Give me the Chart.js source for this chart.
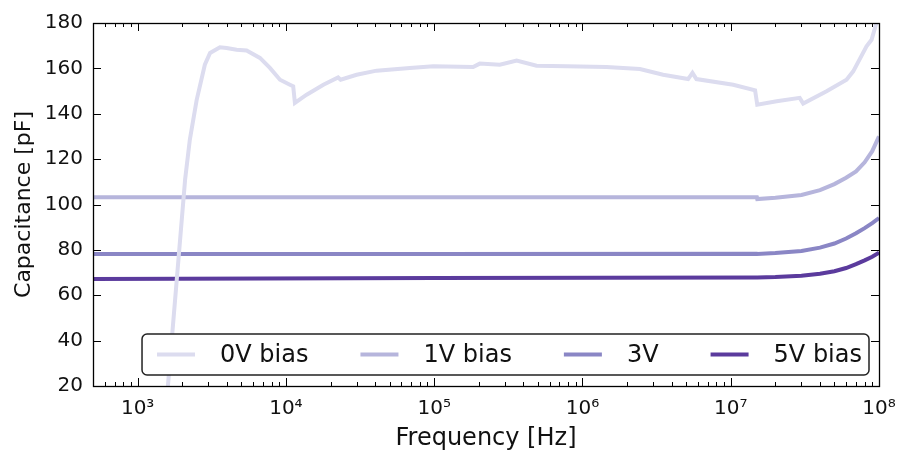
<!DOCTYPE html>
<html lang="en">
<head>
  <meta charset="UTF-8" />
  <title>Capacitance vs Frequency</title>
  <style>
    body {
      margin: 0;
      background: #fff;
    }
    #wrap {
      width: 901px;
      height: 457px;
      position: relative;
    }
  </style>
  <script src="https://cdn.jsdelivr.net/npm/chart.js"></script>
</head>
<body>
  <div id="wrap"><canvas id="capChart"></canvas></div>
  <script>
    // Series (frequency in Hz, capacitance in pF)
    const seriesNames = ["0V bias", "1V bias", "3V", "5V bias"];
    const seriesColors = ["#dcdcef", "#b6b5dc", "#8a86c5", "#5b3b9d"];

    const freq0 = [1.4e3, 1.6e3, 2.09e3, 2.25e3, 2.5e3, 2.84e3, 3.08e3, 3.59e3, 3.98e3, 4.65e3,
      5.43e3, 6.68e3, 7.8e3, 9.12e3, 1.064e4, 1.12e4, 1.15e4, 1.38e4, 1.79e4, 2.25e4,
      2.34e4, 3.0e4, 4.09e4, 6.85e4, 9.86e4, 1.83e5, 2.03e5, 2.77e5, 3.6e5, 4.9e5,
      7.82e5, 1.45e6, 2.44e6, 3.5e6, 5.16e6, 5.52e6, 5.87e6, 1.04e7, 1.46e7, 1.51e7,
      2.04e7, 2.92e7, 3.08e7, 4.43e7, 6.04e7, 6.7e7, 8.24e7, 8.91e7, 1e8];
    const cap0 = [-20, 20, 111, 128.6, 146, 161.6, 166.8, 169.3, 169, 168.2,
      167.9, 164.6, 160.2, 155, 152.8, 152.1, 144.8, 148.4, 152.8, 156,
      155, 157.2, 159, 160.2, 160.9, 160.6, 162.1, 161.6, 163.4, 161.2,
      160.9, 160.6, 159.7, 157.2, 155.3, 158, 155.3, 152.8, 150.3, 144,
      145.5, 147, 144.5, 149.9, 155, 158.7, 169.7, 172.6, 184];

    const freqBias = [5e2, 1e5, 1.5e7, 1.51e7, 2e7, 3e7, 4e7, 5e7, 6e7, 7e7, 8e7, 9e7, 1e8];
    const cap1 = [103.2, 103.2, 103.2, 102.4, 103.0, 104.2, 106.3, 109.0, 111.8, 114.6, 118.6, 123.5, 130];
    const cap3 = [78.2, 78.2, 78.3, 78.2, 78.6, 79.5, 81.0, 82.8, 85.0, 87.3, 89.6, 91.8, 94];
    const cap5 = [67.2, 67.6, 67.8, 67.8, 68.0, 68.6, 69.5, 70.6, 72.0, 73.7, 75.4, 77.0, 78.8];

    const xExponents = [3, 4, 5, 6, 7, 8];
    const yTicks = [20, 40, 60, 80, 100, 120, 140, 160, 180];

    const sup = { "0": "⁰", "1": "¹", "2": "²", "3": "³", "4": "⁴", "5": "⁵", "6": "⁶", "7": "⁷", "8": "⁸", "9": "⁹" };
    const FONT = "'DejaVu Sans', sans-serif";

    function toPoints(xs, ys) {
      return xs.map((x, i) => ({ x: x, y: ys[i] }));
    }

    // frame with inward ticks on all four sides, like matplotlib
    const framePlugin = {
      id: "frame",
      afterDatasetsDraw(chart) {
        const ctx = chart.ctx;
        const a = chart.chartArea;
        const xs = chart.scales.x;
        const ys = chart.scales.y;
        ctx.save();
        ctx.strokeStyle = "#000";
        ctx.lineWidth = 1;
        ctx.beginPath();
        // x ticks: majors at decades, minors at 2..9
        for (let e = 2; e <= 8; e++) {
          for (let m = 1; m <= 9; m++) {
            const v = m * Math.pow(10, e);
            if (v < xs.min || v > xs.max) continue;
            const px = Math.round(xs.getPixelForValue(v)) + 0.5;
            const len = m === 1 ? 8 : 4;
            ctx.moveTo(px, a.bottom); ctx.lineTo(px, a.bottom - len);
            ctx.moveTo(px, a.top); ctx.lineTo(px, a.top + len);
          }
        }
        // y ticks
        yTicks.forEach(v => {
          const py = Math.round(ys.getPixelForValue(v)) + 0.5;
          ctx.moveTo(a.left, py); ctx.lineTo(a.left + 8, py);
          ctx.moveTo(a.right, py); ctx.lineTo(a.right - 8, py);
        });
        ctx.stroke();
        ctx.lineWidth = 1.3;
        ctx.strokeRect(Math.round(a.left) + 0.5, Math.round(a.top) + 0.5,
          Math.round(a.right - a.left), Math.round(a.bottom - a.top));
        ctx.restore();
      }
    };

    // legend box inside the plot, lower right
    const boxLegend = {
      id: "boxLegend",
      afterDraw(chart) {
        const ctx = chart.ctx;
        const a = chart.chartArea;
        ctx.save();
        ctx.font = "24px " + FONT;
        const widths = chart.data.datasets.map(d => ctx.measureText(d.label).width);
        const handle = 38, gap = 25, colGap = 52, padL = 15, padR = 7;
        let total = padL + padR;
        widths.forEach((w, i) => { total += handle + gap + w + (i < widths.length - 1 ? colGap : 0); });
        const right = a.right - 10;
        const bottom = a.bottom - 11;
        const top = bottom - 41;
        const left = right - total;
        ctx.fillStyle = "#fff";
        ctx.strokeStyle = "#222";
        ctx.lineWidth = 1.5;
        ctx.beginPath();
        ctx.roundRect(left, top, total, bottom - top, 5);
        ctx.fill();
        ctx.stroke();
        let x = left + padL;
        const cy = (top + bottom) / 2;
        ctx.textBaseline = "middle";
        chart.data.datasets.forEach((d, i) => {
          ctx.strokeStyle = d.borderColor;
          ctx.lineWidth = 4;
          ctx.beginPath();
          ctx.moveTo(x, cy);
          ctx.lineTo(x + handle, cy);
          ctx.stroke();
          ctx.fillStyle = "#111";
          ctx.fillText(d.label, x + handle + gap, cy + 1);
          x += handle + gap + widths[i] + colGap;
        });
        ctx.restore();
      }
    };

    const datasets = [
      { label: seriesNames[0], data: toPoints(freq0, cap0) },
      { label: seriesNames[1], data: toPoints(freqBias, cap1) },
      { label: seriesNames[2], data: toPoints(freqBias, cap3) },
      { label: seriesNames[3], data: toPoints(freqBias, cap5) }
    ].map((d, i) => Object.assign(d, {
      borderColor: seriesColors[i],
      backgroundColor: seriesColors[i],
      borderWidth: 4,
      pointRadius: 0,
      tension: 0,
      fill: false
    }));

    new Chart(document.getElementById("capChart"), {
      type: "line",
      data: { datasets: datasets },
      options: {
        responsive: true,
        maintainAspectRatio: false,
        animation: false,
        layout: { padding: { top: 23, right: 22, left: 0, bottom: 0 } },
        plugins: {
          legend: { display: false },
          tooltip: { enabled: false }
        },
        scales: {
          x: {
            type: "logarithmic",
            min: 500,
            max: 1e8,
            afterBuildTicks(scale) {
              scale.ticks = xExponents.map(e => ({ value: Math.pow(10, e) }));
            },
            afterFit(scale) {
              scale.height = 71;
              scale.paddingLeft = 0;
              scale.paddingRight = 0;
            },
            grid: { display: false, drawTicks: false },
            border: { display: false },
            ticks: {
              autoSkip: false,
              maxRotation: 0,
              padding: 11,
              color: "#111",
              font: { family: FONT, size: 20 },
              callback: v => "10" + String(Math.round(Math.log10(v))).split("").map(c => sup[c]).join("")
            },
            title: {
              display: true,
              text: "Frequency [Hz]",
              color: "#111",
              font: { family: FONT, size: 24 },
              padding: { top: 0, bottom: 4 }
            }
          },
          y: {
            min: 20,
            max: 180,
            afterBuildTicks(scale) {
              scale.ticks = yTicks.map(v => ({ value: v }));
            },
            afterFit(scale) { scale.width = 93; },
            grid: { display: false, drawTicks: false },
            border: { display: false },
            ticks: {
              padding: 10,
              color: "#111",
              font: { family: FONT, size: 20 }
            },
            title: {
              display: true,
              text: "Capacitance [pF]",
              color: "#111",
              font: { family: FONT, size: 22 },
              padding: { top: 11, bottom: 0 }
            }
          }
        }
      },
      plugins: [framePlugin, boxLegend]
    });
  </script>
</body>
</html>
